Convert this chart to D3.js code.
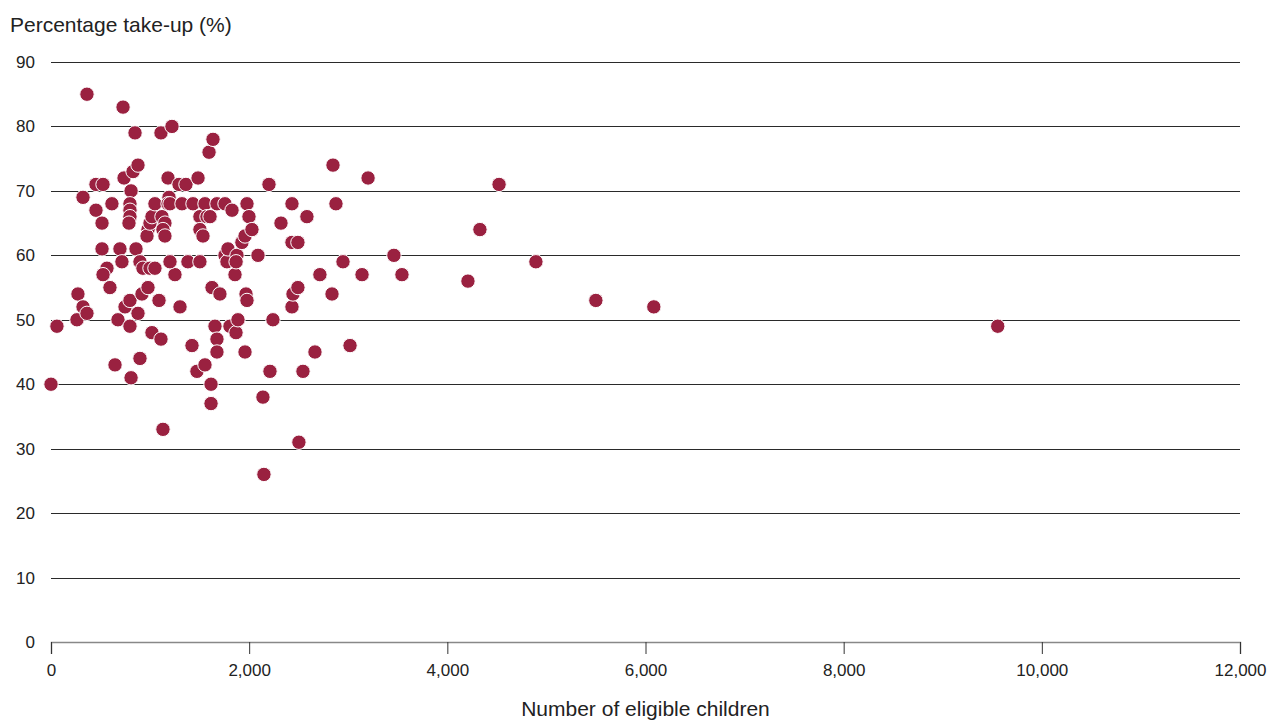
<!DOCTYPE html>
<html>
<head>
<meta charset="utf-8">
<script src="https://cdn.jsdelivr.net/npm/d3@7"></script>
<style>
  body { margin: 0; background: #fff; }
  text { font-family: "Liberation Sans", Arial, sans-serif; fill: #222; }
</style>
</head>
<body>
<svg id="chart"></svg>
<script>
// number of eligible children per area
var children = [0, 60, 363, 323, 272, 262, 323, 363, 454, 525, 454, 515, 515, 615, 565, 525, 595, 646, 676, 696,
  716, 727, 737, 747, 808, 797, 797, 797, 787, 828, 848, 878, 858, 808, 797, 797, 878, 898, 898, 918,
  928, 979, 999, 979, 969, 999, 1019, 1049, 1049, 1090, 1019, 1110, 1110, 1130, 1120, 1150, 1130, 1181, 1191, 1181,
  1201, 1221, 1251, 1292, 1362, 1322, 1302, 1382, 1433, 1423, 1473, 1484, 1503, 1503, 1534, 1503, 1554, 1574, 1554, 1595,
  1605, 1615, 1615, 1625, 1635, 1655, 1675, 1675, 1675, 1705, 1756, 1756, 1776, 1786, 1827, 1806, 1857, 1867, 1877, 1887,
  1927, 1958, 1958, 1968, 1978, 1978, 1998, 2028, 2089, 2139, 2149, 2200, 2210, 2240, 2321, 2432, 2432, 2432, 2442, 2492,
  2492, 2502, 2543, 2583, 2664, 2714, 2836, 2846, 2876, 2947, 3018, 3139, 3200, 3461, 3542, 4208, 4329, 4522, 4894, 5499,
  6084, 9555, 1201, 1150, 1868];
// percentage take-up
var takeUp = [40, 49, 85, 69, 54, 50, 52, 51, 71, 71, 67, 65, 61, 68, 58, 57, 55, 43, 50, 61,
  59, 83, 72, 52, 70, 68, 67, 66, 65, 73, 79, 74, 61, 41, 49, 53, 51, 59, 44, 54,
  58, 55, 58, 64, 63, 65, 66, 68, 58, 53, 48, 47, 79, 33, 66, 65, 64, 72, 69, 68,
  68, 80, 57, 71, 71, 68, 52, 59, 68, 46, 42, 72, 66, 64, 63, 59, 68, 66, 43, 76,
  66, 40, 37, 55, 78, 49, 68, 47, 45, 54, 68, 60, 59, 61, 67, 49, 57, 48, 60, 50,
  62, 63, 45, 54, 53, 68, 66, 64, 60, 38, 26, 71, 42, 50, 65, 68, 62, 52, 54, 62,
  55, 31, 42, 66, 45, 57, 54, 74, 68, 59, 46, 57, 72, 60, 57, 56, 64, 71, 59, 53,
  52, 49, 59, 63, 59];
var yTicks = [0, 10, 20, 30, 40, 50, 60, 70, 80, 90];
var xTicks = [0, 2000, 4000, 6000, 8000, 10000, 12000];

var points = children.map(function (c, i) { return { n: c, pct: takeUp[i] }; });

var margin = { top: 62, right: 30, bottom: 78, left: 51 };
var width = 1270 - margin.left - margin.right,
    height = 720 - margin.top - margin.bottom;

var svg = d3.select("#chart")
            .attr("width", 1270)
            .attr("height", 720);

var g = svg.append("g")
           .attr("transform", "translate(" + margin.left + "," + margin.top + ")");

var x = d3.scaleLinear().domain([0, 12000]).range([0, width]);
var y = d3.scaleLinear().domain([0, 90]).range([height, 0]);

// horizontal grid lines
g.selectAll(".grid")
 .data(yTicks.filter(function (d) { return d > 0; }))
 .enter().append("line")
 .attr("x1", 0).attr("x2", width)
 .attr("y1", function (d) { return Math.round(y(d)) + 0.5; })
 .attr("y2", function (d) { return Math.round(y(d)) + 0.5; })
 .attr("stroke", "#2a2a2a")
 .attr("stroke-width", 1);

// y tick labels
g.selectAll(".ylab")
 .data(yTicks)
 .enter().append("text")
 .attr("x", -16)
 .attr("y", function (d) { return y(d); })
 .attr("dy", "0.35em")
 .attr("text-anchor", "end")
 .style("font-size", "17px")
 .text(function (d) { return d; });

// x axis
var xAxis = d3.axisBottom(x)
              .tickValues(xTicks)
              .tickSize(12)
              .tickFormat(d3.format(","));

var xg = g.append("g")
          .attr("transform", "translate(0," + height + ")")
          .call(xAxis);
xg.select(".domain").attr("stroke", "#888").attr("stroke-width", 1.5);
xg.selectAll(".tick line").attr("stroke", "#333");
xg.selectAll(".tick text")
  .attr("y", 22)
  .style("font-size", "17px")
  .style("font-family", "'Liberation Sans', Arial, sans-serif")
  .attr("fill", "#222");

// points
g.selectAll("circle")
 .data(points)
 .enter().append("circle")
 .attr("cx", function (d) { return x(d.n); })
 .attr("cy", function (d) { return y(d.pct); })
 .attr("r", 7.2)
 .attr("fill", "#9a2140")
 .attr("stroke", "#fff")
 .attr("stroke-width", 1);

// titles
svg.append("text")
   .attr("x", 10)
   .attr("y", 32)
   .style("font-size", "21px")
   .text("Percentage take-up (%)");

svg.append("text")
   .attr("x", margin.left + width / 2)
   .attr("y", 716)
   .attr("text-anchor", "middle")
   .style("font-size", "21px")
   .text("Number of eligible children");
</script>
</body>
</html>
